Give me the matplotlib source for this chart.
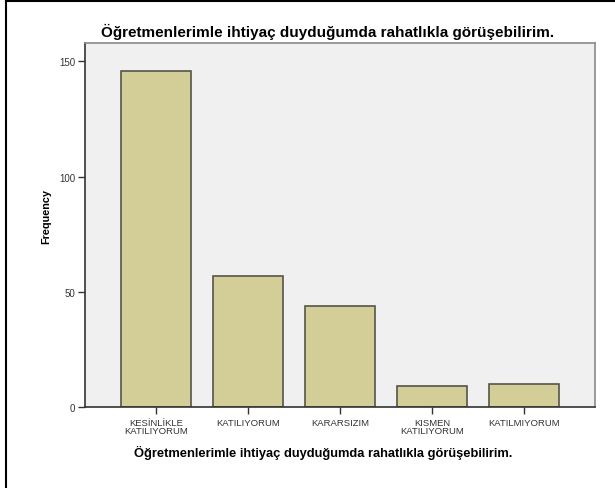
import numpy as np
import matplotlib.pyplot as plt

plt.rcParams['font.family'] = ['Liberation Sans', 'DejaVu Sans']

# Dati
categorie = ['KESİNLİKLE\nKATILIYORUM', 'KATILIYORUM', 'KARARSIZIM',
             'KISMEN\nKATILIYORUM', 'KATILMIYORUM']
frequenze = np.array([146, 57, 44, 9, 10])
titolo = 'Öğretmenlerimle ihtiyaç duyduğumda rahatlıkla görüşebilirim.'

fig = plt.figure(figsize=(6.15, 4.89), dpi=100)
ax = fig.add_axes([0.138, 0.1656, 0.8295, 0.7444])

x = np.arange(len(categorie))
ax.bar(x, frequenze, width=0.76, color='#D3CE97', edgecolor='#55554a', linewidth=1.2, zorder=2)

ax.set_facecolor('#F0F0F0')
ax.set_xlim(-0.77, 4.77)
ax.set_ylim(0, 158)
ax.set_yticks([0, 50, 100, 150])
ax.set_xticks(x)
ax.set_xticklabels(categorie, fontsize=6.8, color='#333333', linespacing=0.85)
ax.tick_params(axis='y', labelsize=7, colors='#333333', length=5, width=1, direction='out', pad=2)
ax.tick_params(axis='x', length=5, width=1, direction='out', pad=3, colors='#333333')
for s in ax.spines.values():
    s.set_color('#8a8a8a')
    s.set_linewidth(1.2)
ax.spines['left'].set_color('#333333')
ax.spines['bottom'].set_color('#333333')

ax.set_ylabel('Frequency', fontsize=7.8, fontweight='bold')
ax.yaxis.set_label_coords(-0.066, 0.526)
ax.set_xlabel(titolo, fontsize=9.3, fontweight='bold')
ax.xaxis.set_label_coords(0.467, -0.103)
fig.text(0.5325, 0.935, titolo, ha='center', va='center', fontsize=11, fontweight='bold')

# bordo esterno (solo sinistra e sopra visibili)
fig.add_artist(plt.Line2D([0.0105, 0.0105], [0.0, 0.996], color='black', linewidth=1.5))
fig.add_artist(plt.Line2D([0.0105, 1.0], [0.996, 0.996], color='black', linewidth=1.5))

fig.savefig('out.png', dpi=100)
